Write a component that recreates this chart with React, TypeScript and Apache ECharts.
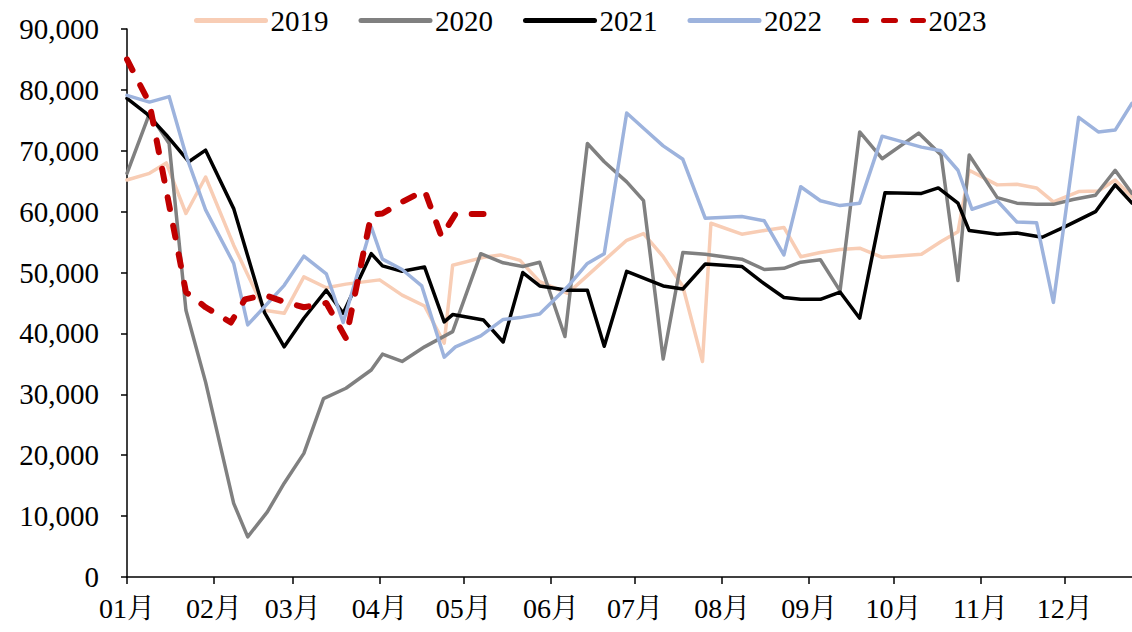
import React, { useEffect, useRef } from "react";
import * as echarts from "echarts";

const YEAR = 2023;
const AXIS_START = "01-01";
const AXIS_END = "12-25";
const Y_MIN = 0;
const Y_MAX = 90000;
const Y_STEP = 10000;

const seriesNames = ["2019", "2020", "2021", "2022", "2023"];

const dates2019 = ["01-01", "01-09", "01-15", "01-22", "01-29", "02-08", "02-19", "02-26", "03-05", "03-13", "03-20", "04-01", "04-09", "04-17", "04-24", "04-27", "05-08", "05-14", "05-21", "05-28", "06-07", "06-14", "06-20", "06-28", "07-04", "07-11", "07-18", "07-25", "07-28", "08-08", "08-16", "08-23", "08-29", "09-05", "09-12", "09-19", "09-27", "10-11", "10-18", "10-24", "10-28", "11-07", "11-14", "11-21", "11-27", "12-06", "12-13", "12-19", "12-25"];
const values2019 = [65200, 66300, 68000, 59700, 65700, 54500, 43800, 43300, 49300, 47500, 48100, 48800, 46300, 44500, 38400, 51200, 52500, 52900, 52000, 48500, 46600, 49500, 52000, 55300, 56400, 52600, 47700, 35400, 58100, 56300, 56900, 57400, 52600, 53300, 53800, 54000, 52500, 53000, 55100, 56700, 66800, 64400, 64500, 63900, 61600, 63300, 63400, 65200, 62400];

const dates2020 = ["01-01", "01-09", "01-16", "01-22", "01-29", "02-08", "02-13", "02-20", "02-26", "03-05", "03-12", "03-20", "03-29", "04-02", "04-09", "04-17", "04-27", "05-07", "05-15", "05-22", "05-28", "06-06", "06-14", "06-20", "06-28", "07-04", "07-11", "07-18", "07-26", "08-08", "08-16", "08-23", "08-29", "09-05", "09-12", "09-19", "09-27", "10-10", "10-18", "10-24", "10-28", "11-07", "11-14", "11-21", "11-27", "12-04", "12-12", "12-19", "12-25"];
const values2020 = [66300, 76100, 71200, 43800, 32000, 12100, 6600, 10700, 15400, 20300, 29300, 31000, 34000, 36600, 35400, 37800, 40300, 53100, 51600, 51000, 51700, 39500, 71200, 68200, 64900, 61800, 35800, 53300, 53000, 52200, 50500, 50700, 51700, 52100, 47000, 73100, 68700, 72900, 69300, 48700, 69300, 62300, 61400, 61200, 61200, 62000, 62700, 66800, 63000];

const dates2021 = ["01-01", "01-08", "01-15", "01-23", "01-29", "02-08", "02-19", "02-26", "03-05", "03-13", "03-19", "03-29", "04-02", "04-09", "04-17", "04-24", "04-27", "05-08", "05-15", "05-22", "05-28", "06-07", "06-14", "06-20", "06-28", "07-11", "07-18", "07-26", "08-08", "08-15", "08-23", "08-29", "09-05", "09-12", "09-19", "09-28", "10-11", "10-17", "10-24", "10-28", "11-07", "11-14", "11-23", "12-01", "12-12", "12-19", "12-25"];
const values2021 = [78600, 76100, 72600, 68200, 70100, 60500, 43400, 37800, 42500, 47100, 43300, 53100, 51100, 50200, 50900, 41900, 43100, 42200, 38600, 50000, 47800, 47100, 47100, 37900, 50200, 47800, 47300, 51400, 51000, 48500, 45900, 45600, 45600, 46800, 42500, 63100, 63000, 63900, 61400, 56900, 56300, 56500, 55800, 57500, 60000, 64400, 61400];

const dates2022 = ["01-01", "01-09", "01-16", "01-22", "01-29", "02-08", "02-13", "02-26", "03-05", "03-13", "03-19", "03-29", "04-02", "04-09", "04-16", "04-24", "04-28", "05-07", "05-15", "05-21", "05-28", "06-07", "06-14", "06-20", "06-28", "07-04", "07-11", "07-18", "07-26", "08-08", "08-16", "08-23", "08-29", "09-05", "09-12", "09-19", "09-27", "10-11", "10-18", "10-24", "10-29", "11-07", "11-14", "11-21", "11-27", "12-06", "12-13", "12-19", "12-25"];
const values2022 = [79100, 78000, 78900, 69300, 60300, 51500, 41400, 47900, 52700, 49800, 41800, 57500, 52200, 50500, 47800, 36100, 37800, 39600, 42300, 42600, 43200, 47700, 51500, 53100, 76200, 73700, 70800, 68600, 58900, 59200, 58500, 52900, 64100, 61800, 61000, 61400, 72400, 70600, 70000, 66800, 60400, 61800, 58300, 58200, 45100, 75500, 73100, 73400, 77800];

const dates2023 = ["01-01", "01-09", "01-22", "01-29", "02-07", "02-12", "02-19", "02-26", "03-05", "03-13", "03-20", "03-29", "04-02", "04-09", "04-17", "04-23", "04-28", "05-08"];
const values2023 = [85000, 77800, 46800, 44300, 41800, 45600, 46300, 45200, 44300, 45000, 39200, 59500, 59700, 61600, 63500, 55900, 59600, 59600];

const FONT = '"Liberation Serif", "Times New Roman", "Noto Serif CJK SC", "Noto Sans CJK SC", serif';

function toTime(md: string): number {
  const [m, d] = md.split("-").map(Number);
  return Date.UTC(YEAR, m - 1, d);
}

function pairs(dates: string[], values: number[]) {
  return dates.map((d, i) => [toTime(d), values[i]]);
}

export default function App() {
  const ref = useRef<HTMLDivElement>(null);

  useEffect(() => {
    if (!ref.current) return;
    const chart = echarts.init(ref.current, null, { renderer: "svg" });

    const allDates = [dates2019, dates2020, dates2021, dates2022, dates2023];
    const allValues = [values2019, values2020, values2021, values2022, values2023];
    const styles = [
      { color: "#F8CDB5", width: 3.5, type: "solid" as any },
      { color: "#808080", width: 3.5, type: "solid" as any },
      { color: "#000000", width: 3.5, type: "solid" as any },
      { color: "#9DB3DD", width: 3.5, type: "solid" as any },
      { color: "#C00000", width: 6, type: [12, 17] as any },
    ];

    chart.setOption({
      animation: false,
      useUTC: true,
      backgroundColor: "#ffffff",
      textStyle: { fontFamily: FONT },
      legend: {
        top: 1,
        left: 189,
        itemWidth: 69,
        itemHeight: 14,
        itemGap: 30,
        itemStyle: { opacity: 0 },
        lineStyle: { width: 5 },
        textStyle: { fontSize: 29, color: "#000", fontFamily: FONT },
        data: seriesNames,
      },
      grid: { left: 127, right: 0, top: 29, bottom: 55 },
      xAxis: {
        type: "time",
        min: toTime(AXIS_START),
        max: toTime(AXIS_END),
        splitNumber: 12,
        axisLine: { show: true, lineStyle: { color: "#000", width: 1.5 } },
        axisTick: { show: true, length: 7, lineStyle: { color: "#000", width: 1.5 } },
        splitLine: { show: false },
        axisLabel: {
          fontSize: 28,
          color: "#000",
          fontFamily: FONT,
          margin: 17,
          hideOverlap: false,
          formatter: (v: number) => {
            const m = new Date(v).getUTCMonth() + 1;
            return (m < 10 ? "0" + m : "" + m) + "月";
          },
        },
      },
      yAxis: {
        type: "value",
        min: Y_MIN,
        max: Y_MAX,
        interval: Y_STEP,
        axisLine: { show: true, lineStyle: { color: "#000", width: 1.5 } },
        axisTick: { show: true, length: 6, lineStyle: { color: "#000", width: 1.5 } },
        splitLine: { show: false },
        axisLabel: {
          fontSize: 29,
          color: "#000",
          fontFamily: FONT,
          margin: 28,
          formatter: (v: number) => v.toLocaleString("en-US"),
        },
      },
      series: seriesNames.map((name, i) => ({
        name,
        type: "line",
        data: pairs(allDates[i], allValues[i]),
        symbol: "none",
        showSymbol: false,
        z: 2 + i,
        itemStyle: { color: styles[i].color },
        lineStyle: {
          color: styles[i].color,
          width: styles[i].width,
          type: styles[i].type,
          cap: "round",
          join: "round",
        },
      })),
    });

    return () => chart.dispose();
  }, []);

  return (
    <div
      ref={ref}
      style={{ position: "fixed", left: 0, top: 0, width: 1132, height: 632, background: "#fff" }}
    />
  );
}
